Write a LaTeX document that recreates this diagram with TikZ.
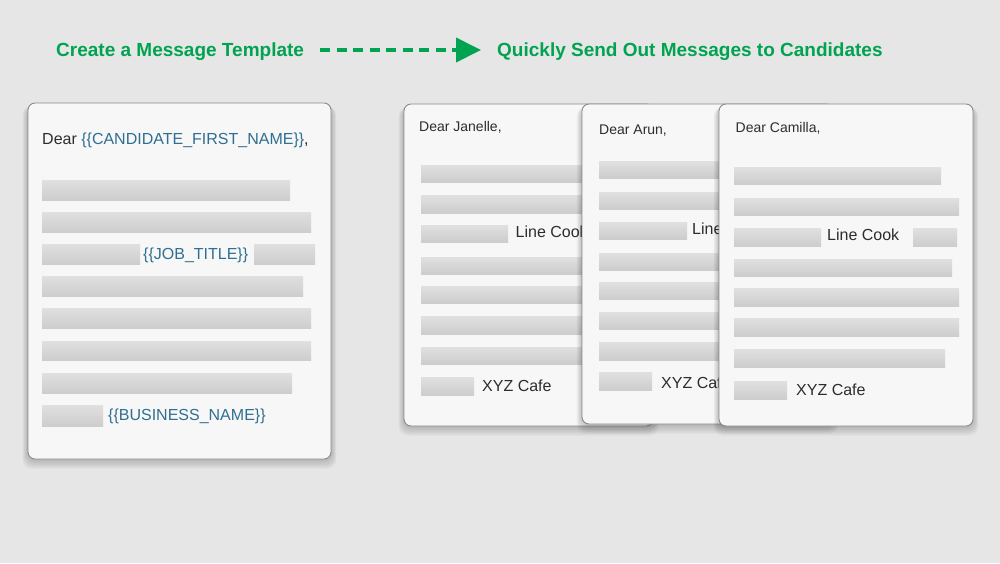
\documentclass[tikz,border=0pt]{standalone}
\usepackage{fontspec}
\setmainfont{Liberation Sans}
\usetikzlibrary{arrows.meta}
\definecolor{bgc}{RGB}{230,230,230}
\definecolor{cardfill}{RGB}{247,247,247}
\definecolor{cardline}{RGB}{138,138,138}
\definecolor{barTop}{RGB}{224,224,224}
\definecolor{barBot}{RGB}{205,205,205}
\definecolor{txtc}{RGB}{45,45,45}
\definecolor{varc}{RGB}{47,111,145}
\definecolor{hdrc}{RGB}{0,163,80}
\newcommand\cardshadow[4]{%
  \foreach \s in {1,...,9}{%
    \fill[black,opacity=0.022,rounded corners=9pt]
      ({#1-0.6*\s},{#2+3}) rectangle ({#3+0.6*\s},{#4+1.1*\s});}}
\newcommand\msgbar[4]{\fill[barfill] (#1,#2) rectangle (#3,#4);}
\tikzset{
  card/.style={fill=cardfill,draw=cardline,line width=0.9pt,rounded corners=7pt},
  barfill/.style={top color=barTop,bottom color=barBot,draw=none},
  hdr/.style={anchor=base west,inner sep=0pt,text=hdrc,font=\fontsize{19}{22}\selectfont\bfseries},
  big/.style={anchor=base west,inner sep=0pt,text=txtc,font=\fontsize{16}{19}\selectfont},
  small/.style={anchor=base west,inner sep=0pt,text=txtc,font=\fontsize{14}{17}\selectfont},
  var/.style={text=varc},
  flow/.style={hdrc,line width=4pt,dash pattern=on 10pt off 6.5pt,-{Triangle[length=25pt,width=24pt]}}
}
\begin{document}
\begin{tikzpicture}[x=1pt,y=-1pt]
\useasboundingbox (0,0) rectangle (1000,563);
\fill[bgc] (0,0) rectangle (1000,563);
% header
\node[hdr] (h1) at (56,56.8) {Create a Message Template};
\node[hdr] (h2) at (497,56.8) {Quickly Send Out Messages to Candidates};
\coordinate (as) at (320,50);
\coordinate (ae) at (481,50);
\draw[flow] (as) -- (ae);
% template card
\cardshadow{28}{103}{331}{459}
\draw[card] (28,103) rectangle (331,459);
\node[big] (t0) at (42,144) {Dear \textcolor{varc}{\{\{CANDIDATE\_FIRST\_NAME\}\}},};
\msgbar{42}{180}{290}{200}
\msgbar{42}{212}{311}{232}
\msgbar{42}{244}{140}{264}
\node[big,var] (t1) at (143,259) {\{\{JOB\_TITLE\}\}};
\msgbar{254}{244}{315}{264}
\msgbar{42}{276}{303}{296}
\msgbar{42}{308}{311}{328}
\msgbar{42}{341}{311}{360}
\msgbar{42}{373}{292}{393}
\msgbar{42}{405}{103}{426}
\node[big,var] (t2) at (108,420) {\{\{BUSINESS\_NAME\}\}};
% card A
\cardshadow{404}{104}{653}{426}
\draw[card] (404,104) rectangle (653,426);
\node[small] (a0) at (419,131) {Dear Janelle,};
\msgbar{421}{165}{630}{182}
\msgbar{421}{195}{640}{213}
\msgbar{421}{225}{508}{242}
\node[big] (a1) at (515.5,237) {Line Cook};
\msgbar{421}{257}{635}{274}
\msgbar{421}{286}{640}{303}
\msgbar{421}{316}{640}{334}
\msgbar{421}{347}{625}{364}
\msgbar{421}{377}{474}{395}
\node[big] (a2) at (482,391) {XYZ Cafe};
% card B
\cardshadow{582}{104}{833}{424}
\draw[card] (582,104) rectangle (833,424);
\node[small] (b0) at (599,134.5) {Dear Arun,};
\msgbar{599}{161}{810}{178}
\msgbar{599}{192}{820}{209}
\msgbar{599}{222}{687}{239}
\node[big] (b1) at (692,234.5) {Line Cook};
\msgbar{599}{253}{815}{270}
\msgbar{599}{282}{820}{299}
\msgbar{599}{312}{820}{329}
\msgbar{599}{342}{805}{360}
\msgbar{599}{372}{652}{390}
\node[big] (b2) at (661,388.5) {XYZ Cafe};
% card C
\cardshadow{719}{104}{973}{426}
\draw[card] (719,104) rectangle (973,426);
\node[small] (c0) at (735.5,132) {Dear Camilla,};
\msgbar{734}{167}{941}{184}
\msgbar{734}{198}{959}{215}
\msgbar{734}{228}{821}{246}
\node[big] (c1) at (827,240) {Line Cook};
\msgbar{913}{228}{957}{246}
\msgbar{734}{259}{952}{276}
\msgbar{734}{288}{959}{306}
\msgbar{734}{318}{959}{336}
\msgbar{734}{349}{945}{367}
\msgbar{734}{381}{787}{399}
\node[big] (c2) at (796,395.5) {XYZ Cafe};
\end{tikzpicture}
\end{document}
